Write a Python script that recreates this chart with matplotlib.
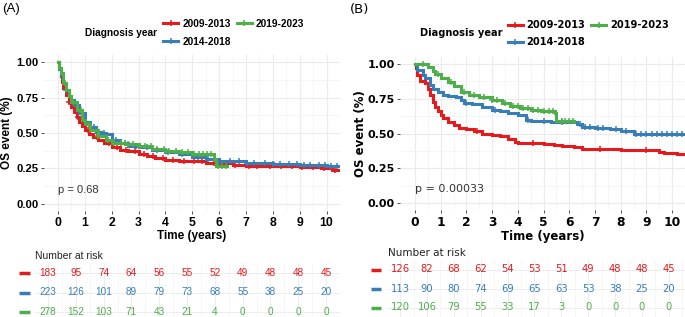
import numpy as np
import matplotlib
matplotlib.use("Agg")
from matplotlib import pyplot as plt
from matplotlib.lines import Line2D
from matplotlib.transforms import blended_transform_factory

# ---------------- data ----------------
groups = ["2009-2013", "2014-2018", "2019-2023"]
colors = ["#E41A1C", "#377EB8", "#4DAF4A"]

# panel A step curves (time in years, survival)
a_red_t = [0, 0.05, 0.1, 0.15, 0.2, 0.3, 0.4, 0.5, 0.6, 0.7, 0.8, 0.9, 1.0, 1.15, 1.3, 1.5, 1.7, 2.0,
           2.3, 2.6, 3.0, 3.3, 3.6, 4.0, 4.5, 5.0, 5.5, 6.0, 6.5, 7.0, 8.0, 9.0, 9.8, 10.2, 10.5]
a_red_s = [1.0, 0.95, 0.90, 0.86, 0.82, 0.77, 0.72, 0.68, 0.65, 0.61, 0.58, 0.55, 0.52, 0.49, 0.47, 0.45, 0.43, 0.40,
           0.38, 0.37, 0.35, 0.34, 0.325, 0.31, 0.305, 0.30, 0.29, 0.285, 0.275, 0.27, 0.265, 0.26, 0.25, 0.24, 0.24]
a_blue_t = [0, 0.05, 0.1, 0.2, 0.3, 0.4, 0.5, 0.6, 0.8, 1.0, 1.2, 1.4, 1.6, 1.8, 2.0, 2.3, 2.6, 3.0, 3.5,
            4.0, 4.5, 5.0, 5.5, 6.0, 7.0, 8.0, 9.0, 10.0, 10.5]
a_blue_s = [1.0, 0.95, 0.91, 0.85, 0.80, 0.76, 0.73, 0.70, 0.64, 0.58, 0.54, 0.51, 0.50, 0.49, 0.45, 0.43, 0.41, 0.40, 0.38,
            0.365, 0.35, 0.33, 0.32, 0.30, 0.29, 0.28, 0.275, 0.27, 0.27]
a_green_t = [0, 0.05, 0.1, 0.2, 0.3, 0.4, 0.5, 0.7, 0.9, 1.0, 1.2, 1.5, 1.8, 2.0, 2.5, 3.0, 3.5, 4.0, 4.5,
             5.0, 5.5, 5.8, 5.9, 6.3]
a_green_s = [1.0, 0.96, 0.92, 0.85, 0.80, 0.76, 0.72, 0.66, 0.59, 0.56, 0.52, 0.48, 0.45, 0.43, 0.42, 0.41, 0.39, 0.37, 0.365,
             0.355, 0.35, 0.32, 0.27, 0.27]
a_red_cens = [0.4, 0.75, 1.1, 1.45, 1.9, 2.2, 2.55, 2.85, 3.2, 3.55, 3.9, 4.3, 4.7, 5.05, 5.35, 5.8, 6.2, 6.6, 7.1,
              7.4, 7.9, 8.3, 8.7, 9.1, 9.5, 9.9, 10.3]
a_blue_cens = [0.3, 0.7, 1.05, 1.35, 1.7, 2.15, 2.5, 2.9, 3.3, 3.7, 4.1, 4.6, 5.2, 5.6, 6.05, 6.4, 6.75, 7.05, 7.3,
               7.7, 8.0, 8.25, 8.6, 8.9, 9.15, 9.4, 9.7, 9.95, 10.15, 10.4]
a_green_cens = [0.25, 0.55, 0.85, 1.15, 1.5, 1.85, 2.1, 2.35, 2.6, 2.8, 3.05, 3.25, 3.45, 3.7, 3.95, 4.15, 4.4, 4.6,
                4.85, 5.05, 5.25, 5.4, 5.55, 5.7, 5.95, 6.1, 6.25]

# panel B step curves
b_red_t = [0, 0.05, 0.1, 0.2, 0.4, 0.5, 0.6, 0.7, 0.8, 0.9, 1.0, 1.1, 1.3, 1.5, 1.7, 2.0, 2.3, 2.6, 3.0, 3.3,
           3.6, 3.9, 4.0, 5.0, 5.4, 5.7, 6.2, 6.5, 7.7, 8.0, 9.5, 9.7, 10.2, 10.5]
b_red_s = [1.0, 0.97, 0.92, 0.88, 0.86, 0.82, 0.78, 0.73, 0.69, 0.66, 0.63, 0.61, 0.58, 0.56, 0.54, 0.53, 0.52, 0.50, 0.49, 0.48,
           0.46, 0.44, 0.43, 0.425, 0.42, 0.41, 0.40, 0.39, 0.385, 0.38, 0.37, 0.36, 0.35, 0.35]
b_blue_t = [0, 0.1, 0.3, 0.4, 0.6, 0.7, 0.9, 1.1, 1.3, 1.6, 1.8, 1.9, 2.2, 2.6, 3.0, 3.3, 3.6, 4.0, 4.3, 4.5,
            5.3, 6.3, 6.5, 7.0, 7.6, 8.0, 8.5, 10.5]
b_blue_s = [1.0, 0.96, 0.92, 0.90, 0.85, 0.82, 0.80, 0.78, 0.77, 0.76, 0.74, 0.72, 0.71, 0.69, 0.67, 0.66, 0.645, 0.63, 0.60, 0.59,
            0.58, 0.565, 0.55, 0.54, 0.53, 0.52, 0.50, 0.50]
b_green_t = [0, 0.5, 0.7, 0.8, 1.0, 1.3, 1.5, 1.8, 2.1, 2.5, 3.0, 3.4, 3.7, 4.1, 4.5, 4.9, 5.45, 5.5, 6.2]
b_green_s = [1.0, 0.98, 0.95, 0.93, 0.90, 0.87, 0.84, 0.80, 0.78, 0.76, 0.74, 0.72, 0.70, 0.68, 0.67, 0.66, 0.645, 0.59, 0.58]
b_red_cens = [2.4, 4.6, 7.2, 9.0]
b_blue_cens = [2.0, 3.1, 4.4, 5.0, 5.7, 6.4, 6.6, 6.8, 7.1, 7.3, 7.8, 8.2, 8.6, 8.8, 9.0, 9.2, 9.4, 9.6,
               9.8, 10.0, 10.2, 10.4]
b_green_cens = [0.3, 0.9, 1.4, 1.9, 2.3, 2.7, 3.0, 3.2, 3.5, 3.8, 4.0, 4.2, 4.4, 4.6, 4.8, 5.0, 5.2, 5.35,
                5.7, 5.85, 6.0, 6.15]

risk_times = [0, 1, 2, 3, 4, 5, 6, 7, 8, 9, 10]
a_risk = [[183, 95, 74, 64, 56, 55, 52, 49, 48, 48, 45],
          [223, 126, 101, 89, 79, 73, 68, 55, 38, 25, 20],
          [278, 152, 103, 71, 43, 21, 4, 0, 0, 0, 0]]
b_risk = [[126, 82, 68, 62, 54, 53, 51, 49, 48, 48, 45],
          [113, 90, 80, 74, 69, 65, 63, 53, 38, 25, 20],
          [120, 106, 79, 55, 33, 17, 3, 0, 0, 0, 0]]

W, H = 685, 317
fig = plt.figure(figsize=(W / 100, H / 100), dpi=100)


def box(x0, y0, x1, y1):
    # pixel box -> figure fraction rect
    return [x0 / W, 1 - y1 / H, (x1 - x0) / W, (y1 - y0) / H]


def step_at(t, s, c):
    idx = np.searchsorted(t, c, side="right") - 1
    return np.asarray(s)[idx]


def km_panel(ax, curves, cens, pval, family, xlim, lab_size, ypad, ytick_size):
    ax.set_facecolor("white")
    for (t, s), c_t, col in zip(curves, cens, colors):
        ax.step(t, s, where="post", color=col, lw=2.2, solid_joinstyle="miter")
        ax.plot(c_t, step_at(t, s, c_t), ls="none", marker="+", ms=5, mew=1.1, color=col)
    ax.set_xlim(*xlim)
    ax.set_ylim(-0.05, 1.05)
    ax.set_xticks(range(11))
    ax.set_xticks(np.arange(0.5, 10.6, 1), minor=True)
    ax.set_yticks([0, 0.25, 0.5, 0.75, 1.0])
    ax.set_yticks([0.125, 0.375, 0.625, 0.875], minor=True)
    ax.set_yticklabels(["0.00", "0.25", "0.50", "0.75", "1.00"])
    ax.grid(which="major", color="#EBEBEB", lw=0.8)
    ax.grid(which="minor", color="#F4F4F4", lw=0.6)
    ax.set_axisbelow(True)
    for sp in ax.spines.values():
        sp.set_visible(False)
    ax.tick_params(which="major", length=2.5, width=0.6, color="#333333", pad=1.5)
    ax.tick_params(which="minor", length=0)
    for lab in ax.get_xticklabels():
        lab.set_fontfamily(family)
        lab.set_fontweight("bold")
        lab.set_fontsize(8.8)
    for lab in ax.get_yticklabels():
        lab.set_fontfamily(family)
        lab.set_fontweight("bold")
        lab.set_fontsize(ytick_size)
    ax.set_xlabel("Time (years)", fontfamily=family, fontweight="bold", fontsize=lab_size, labelpad=1)
    ax.set_ylabel("OS event (%)", fontfamily=family, fontweight="bold", fontsize=lab_size, labelpad=ypad)
    ax.text(0, 0.1, pval, fontfamily=family, fontsize=8, color="#333333", va="center")


def risk_table(ax, risk, family, xlim, sw_x):
    ax.set_xlim(*xlim)
    ax.set_ylim(0.5, 3.5)
    for row, (vals, col) in enumerate(zip(risk, colors)):
        yy = 3 - row
        for t, v in zip(risk_times, vals):
            ax.text(t, yy, str(v), color=col, ha="center", va="center", fontsize=7.2, fontfamily=family)
        tr = blended_transform_factory(fig.transFigure, ax.transData)
        ax.plot([sw_x[0] / W, sw_x[1] / W], [yy, yy], color=col, lw=2.5, transform=tr, clip_on=False,
                solid_capstyle="butt")
    ax.set_xticks(range(11))
    ax.set_xticks(np.arange(0.5, 10.6, 1), minor=True)
    ax.set_yticks([1, 2, 3])
    ax.grid(which="major", color="#EDEDED", lw=0.7)
    ax.grid(which="minor", axis="x", color="#F5F5F5", lw=0.6)
    ax.tick_params(which="both", length=0, labelbottom=False, labelleft=False)
    for sp in ax.spines.values():
        sp.set_visible(False)
    ax.set_title("Number at risk", loc="left", fontsize=7.5, fontfamily=family, pad=3, color="#222222")


def legend_block(x_title, y_title, x_leg, y_leg, family, size):
    fig.text(x_title / W, 1 - y_title / H, "Diagnosis year", fontfamily=family, fontweight="bold",
             fontsize=size, va="center", ha="left")
    handles = [Line2D([], [], color=c, lw=2.2, marker="+", ms=5, mew=1.1) for c in colors]
    leg = fig.legend(handles, groups, loc="upper left", bbox_to_anchor=(x_leg / W, 1 - y_leg / H), ncol=2,
                     frameon=False, borderpad=0, borderaxespad=0, handlelength=1.5, handletextpad=0.4,
                     columnspacing=0.6, labelspacing=0.75,
                     prop={"family": family, "weight": "bold", "size": size})
    return leg


# ---------------- panel A ----------------
axA = fig.add_axes(box(44, 55, 340, 211))
km_panel(axA, [(a_red_t, a_red_s), (a_blue_t, a_blue_s), (a_green_t, a_green_s)],
         [a_red_cens, a_blue_cens, a_green_cens], "p = 0.68", "Liberation Sans", (-0.52, 10.48), 8.5, 2, 8.1)
tabA = fig.add_axes(box(35, 263, 340, 322))
risk_table(tabA, a_risk, "Liberation Sans", (-0.47, 10.47), (19, 30))
legend_block(85, 33, 163, 19, "Liberation Sans", 7.3)
fig.text(2 / W, 1 - 9 / H, "(A)", fontsize=9.5, fontfamily="Liberation Sans", va="center")

# ---------------- panel B ----------------
axB = fig.add_axes(box(400, 57, 685, 210))
km_panel(axB, [(b_red_t, b_red_s), (b_blue_t, b_blue_s), (b_green_t, b_green_s)],
         [b_red_cens, b_blue_cens, b_green_cens], "p = 0.00033", "DejaVu Sans", (-0.58, 10.47), 8.5, 0, 8.0)
tabB = fig.add_axes(box(388, 260, 685, 317))
risk_table(tabB, b_risk, "DejaVu Sans", (-0.45, 10.6), (371, 381))
legend_block(420, 33, 508, 20, "DejaVu Sans", 7.1)
fig.text(350 / W, 1 - 10 / H, "(B)", fontsize=9.5, fontfamily="DejaVu Sans", va="center")

fig.savefig("out.png", dpi=100, facecolor="white")
